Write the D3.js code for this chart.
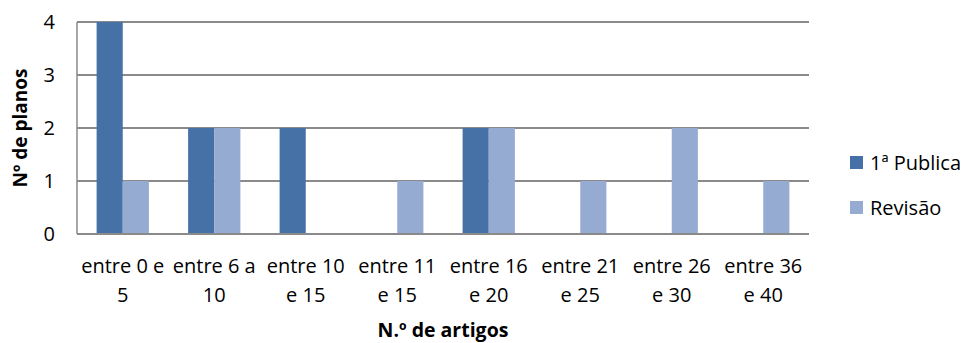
<!DOCTYPE html>
<html>
<head>
<meta charset="utf-8">
<script src="https://cdn.jsdelivr.net/npm/d3@7"></script>
<style>
  html, body { margin: 0; padding: 0; background: #fff; }
  svg { display: block; }
  text { font-family: "Open Sans", sans-serif; fill: #000; }
</style>
</head>
<body>
<svg id="chart" width="968" height="343"></svg>
<script>
// ---- data ----
const categories = ["entre 0 e 5", "entre 6 a 10", "entre 10 e 15", "entre 11 e 15",
                    "entre 16 e 20", "entre 21 e 25", "entre 26 e 30", "entre 36 e 40"];
const labelLine1 = ["entre 0 e", "entre 6 a", "entre 10", "entre 11",
                    "entre 16", "entre 21", "entre 26", "entre 36"];
const labelLine2 = ["5", "10", "e 15", "e 15", "e 20", "e 25", "e 30", "e 40"];
const seriesNames = ["1ª Publica", "Revisão"];
const publicacao = [4, 2, 2, 0, 2, 0, 0, 0];
const revisao = [1, 2, 0, 1, 2, 1, 2, 1];
const yTicks = [0, 1, 2, 3, 4];
const xTitle = "N.º de artigos";
const yTitle = "Nº de planos";

// ---- layout ----
const colors = ["#4571A7", "#95ABD2"];
const plot = { left: 77, right: 809, top: 22, bottom: 234 };
const fs = "20px";
const svg = d3.select("#chart");

const x0 = d3.scaleBand()
  .domain(categories)
  .range([plot.left, plot.right])
  .paddingInner(1.5 / 3.5)
  .paddingOuter(0.75 / 3.5);
const x1 = d3.scaleBand()
  .domain(seriesNames)
  .range([0, x0.bandwidth()]);
const y = d3.scaleLinear().domain([0, 4]).range([plot.bottom, plot.top]);

// gridlines
svg.append("g")
  .selectAll("line")
  .data(yTicks.filter(d => d > 0))
  .join("line")
  .attr("x1", plot.left).attr("x2", plot.right)
  .attr("y1", d => y(d)).attr("y2", d => y(d))
  .attr("stroke", "#8a8a8a").attr("stroke-width", 2);

// bars
const rows = categories.map((c, i) => ({ cat: c, vals: [publicacao[i], revisao[i]] }));
svg.append("g")
  .selectAll("g")
  .data(rows)
  .join("g")
  .attr("transform", d => `translate(${x0(d.cat)},0)`)
  .selectAll("rect")
  .data(d => d.vals.map((v, j) => ({ name: seriesNames[j], v, j })))
  .join("rect")
  .attr("x", d => x1(d.name))
  .attr("width", x1.bandwidth())
  .attr("y", d => y(d.v))
  .attr("height", d => y(0) - y(d.v))
  .attr("fill", d => colors[d.j]);

// axes lines
svg.append("line")
  .attr("x1", plot.left).attr("x2", plot.left)
  .attr("y1", plot.top).attr("y2", plot.bottom)
  .attr("stroke", "#8a8a8a").attr("stroke-width", 1.5);
svg.append("line")
  .attr("x1", plot.left).attr("x2", plot.right)
  .attr("y1", plot.bottom).attr("y2", plot.bottom)
  .attr("stroke", "#8a8a8a").attr("stroke-width", 2);

// y tick labels
svg.append("g")
  .selectAll("text")
  .data(yTicks)
  .join("text")
  .attr("x", plot.left - 22)
  .attr("y", d => y(d))
  .attr("dy", "0.35em")
  .attr("text-anchor", "end")
  .style("font-size", fs)
  .text(d => d);

// x labels
const xl = svg.append("g");
xl.selectAll("text.l1")
  .data(categories)
  .join("text")
  .attr("class", "l1")
  .attr("x", d => x0(d) + x0.bandwidth() / 2)
  .attr("y", 273)
  .attr("text-anchor", "middle")
  .style("font-size", fs)
  .text((d, i) => labelLine1[i]);
xl.selectAll("text.l2")
  .data(categories)
  .join("text")
  .attr("class", "l2")
  .attr("x", d => x0(d) + x0.bandwidth() / 2)
  .attr("y", 302)
  .attr("text-anchor", "middle")
  .style("font-size", fs)
  .text((d, i) => labelLine2[i]);

// axis titles
svg.append("text")
  .attr("x", (plot.left + plot.right) / 2)
  .attr("y", 337)
  .attr("text-anchor", "middle")
  .style("font-size", "19.5px")
  .style("font-weight", "bold")
  .text(xTitle);
svg.append("text")
  .attr("transform", `translate(27,${(plot.top + plot.bottom) / 2}) rotate(-90)`)
  .attr("text-anchor", "middle")
  .style("font-size", "19px")
  .style("font-weight", "bold")
  .text(yTitle);

// legend
const lg = svg.append("g")
  .selectAll("g")
  .data(seriesNames)
  .join("g")
  .attr("transform", (d, i) => `translate(850,${156 + i * 45})`);
lg.append("rect")
  .attr("width", 13).attr("height", 13)
  .attr("fill", (d, i) => colors[i]);
lg.append("text")
  .attr("x", 20).attr("y", 14)
  .style("font-size", fs)
  .text(d => d);
</script>
</body>
</html>
